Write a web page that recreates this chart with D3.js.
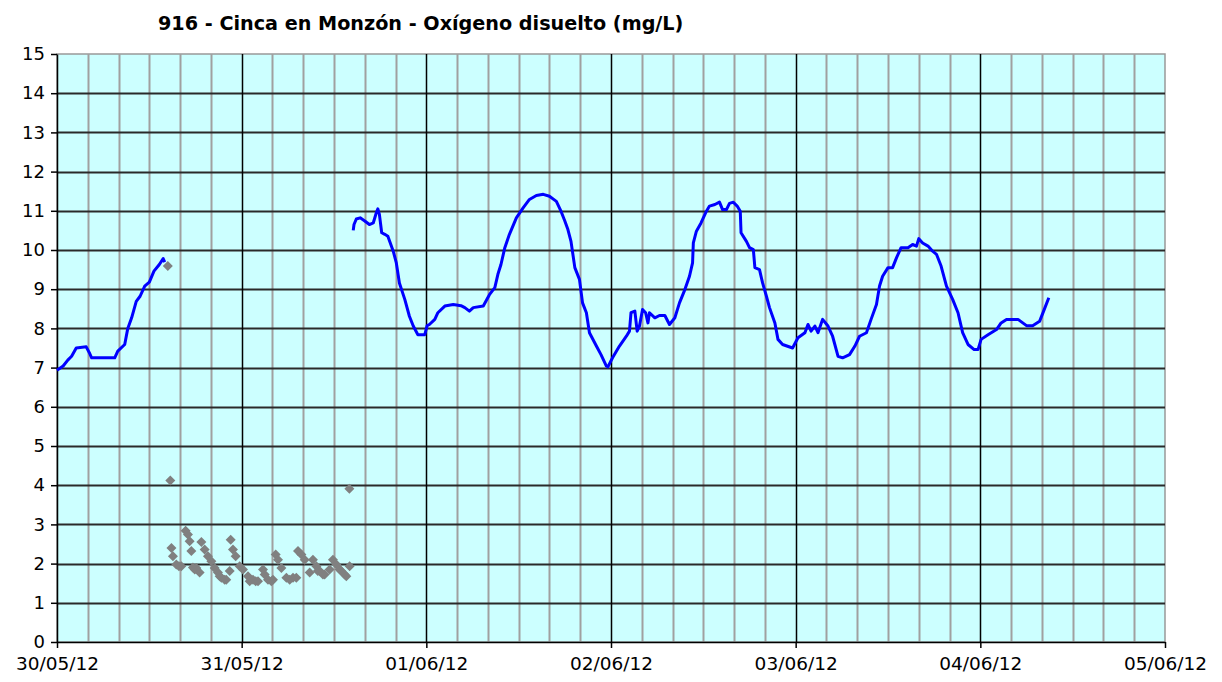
<!DOCTYPE html>
<html>
<head>
<meta charset="utf-8">
<script src="https://cdn.jsdelivr.net/npm/d3@7.9.0/dist/d3.min.js"></script>
<style>
  body { margin: 0; background: #fff; }
  svg { display: block; }
  text { font-family: "DejaVu Sans", Verdana, sans-serif; fill: #000; }
</style>
</head>
<body>
<svg id="chart" width="1222" height="682"></svg>
<script>
// hours since 30/05/12 00:00 and dissolved oxygen (mg/L); null = gap
const blueHours = [0, 0.8, 1.4, 1.9, 2.5, 3.8, 4.2, 4.5, 7.5, 7.9, 8.8, 9.2, 9.7, 10.3, 10.8, 11.4, 12.0, 12.6, 13.3, 13.8, 14.0,
  14.2,
  38.5, 38.6, 38.9, 39.4, 40.0, 40.6, 41.1, 41.5, 41.7, 41.9, 42.2, 42.6, 43.0, 43.7, 44.1, 44.5, 45.2, 45.8, 46.3, 46.9, 47.8,
  48.1, 48.4, 49.1, 49.5, 50.4, 51.5, 52.5, 53.0, 53.6, 54.1, 55.4, 56.2, 56.9, 57.3, 57.7, 58.2, 58.8, 59.7, 60.6, 61.4, 62.3,
  63.2, 64.0, 64.9, 65.5, 66.0, 66.4, 66.8, 67.3, 67.9, 68.3, 68.8, 69.2, 70.1, 70.7, 71.4, 71.6, 72.2, 73.1, 74.0, 74.4, 74.6,
  75.1, 75.4, 75.7, 76.1, 76.5, 76.8, 77.0, 77.7, 78.3, 79.0, 79.6, 80.3, 80.9, 81.6, 82.2, 82.6, 82.7, 83.1, 83.7, 84.4, 84.8,
  85.5, 86.1, 86.5, 87.0, 87.4, 87.9, 88.4, 88.8, 88.9, 89.6, 90.0, 90.5, 90.7, 91.3, 91.7, 92.2, 92.6, 93.3, 93.7, 94.3, 95.6,
  96.3, 97.2, 97.6, 98.0, 98.5, 98.9, 99.5, 100.2, 100.8, 101.5, 102.1, 103.0, 103.7, 104.3, 105.2, 105.8, 106.5, 106.9, 107.3,
  108.0, 108.6, 109.1, 109.7, 110.6, 111.2, 111.7, 112.0, 112.5, 113.2, 113.8, 114.3, 114.9, 115.6, 116.4, 117.1, 117.7, 118.4,
  119.2, 119.7, 120.1, 121.0, 122.1, 122.7, 123.4, 124.9, 126.0, 126.8, 127.7, 128.3, 128.9];
const blueValues = [6.93, 7.04, 7.19, 7.29, 7.5, 7.53, 7.38, 7.25, 7.25, 7.42, 7.59, 8.0, 8.27, 8.69, 8.82, 9.08, 9.18, 9.46, 9.63, 9.78, 9.69,
  null,
  10.5, 10.65, 10.79, 10.82, 10.74, 10.65, 10.69, 10.95, 11.05, 10.91, 10.44, 10.40, 10.35, 9.97, 9.67, 9.16, 8.74, 8.31, 8.06, 7.84, 7.84,
  8.07, 8.10, 8.23, 8.40, 8.57, 8.61, 8.58, 8.53, 8.44, 8.53, 8.57, 8.86, 9.04, 9.38, 9.63, 10.06, 10.40, 10.82, 11.08, 11.29, 11.39,
  11.42, 11.37, 11.24, 10.99, 10.74, 10.52, 10.22, 9.55, 9.25, 8.65, 8.40, 7.89, 7.55, 7.33, 7.04, 7.02, 7.25, 7.55, 7.80, 7.93, 8.40,
  8.44, 7.93, 8.06, 8.48, 8.40, 8.14, 8.40, 8.27, 8.33, 8.33, 8.10, 8.27, 8.65, 8.99, 9.33, 9.67, 10.18, 10.48, 10.69, 10.99, 11.12,
  11.16, 11.22, 11.03, 11.03, 11.19, 11.22, 11.12, 10.99, 10.44, 10.22, 10.06, 10.01, 9.55, 9.50, 9.16, 8.82, 8.53, 8.14, 7.72, 7.59, 7.50,
  7.76, 7.89, 8.10, 7.93, 8.06, 7.89, 8.23, 8.06, 7.80, 7.29, 7.25, 7.33, 7.55, 7.80, 7.89, 8.23, 8.61, 9.08, 9.33,
  9.55, 9.55, 9.80, 10.06, 10.06, 10.14, 10.10, 10.29, 10.18, 10.10, 9.97, 9.89, 9.59, 9.08, 8.74, 8.40, 7.89, 7.59,
  7.46, 7.46, 7.72, 7.84, 7.97, 8.14, 8.23, 8.23, 8.07, 8.07, 8.18, 8.48, 8.78];

const grayHours = [14.4, 14.73, 14.87, 15.07, 15.51, 15.85, 16.16, 16.72, 17.02, 17.24, 17.46, 17.67, 17.9, 18.11, 18.54, 18.76,
  19.19, 19.62, 20.06, 20.49, 20.92, 21.14, 21.36, 21.79, 22.0, 22.44, 22.57, 22.87, 23.22, 23.74, 24.17, 24.82, 25.04, 25.47,
  25.82, 26.12, 26.77, 26.99, 27.42, 27.86, 28.07, 28.42, 28.72, 29.16, 29.81, 30.24, 30.67, 31.1, 31.32, 31.76, 32.19, 32.84,
  33.26, 33.71, 33.9, 34.14, 34.56, 34.78, 35.43, 35.86, 36.31, 36.73, 36.95, 37.38, 37.6, 38.0, 38.03];
const grayValues = [9.59, 4.12, 2.40, 2.19, 1.98, 1.93, 1.93, 2.84, 2.74, 2.57, 2.32, 1.9, 1.85, 1.89, 1.77, 2.55,
  2.36, 2.19, 2.06, 1.89, 1.77, 1.68, 1.64, 1.59, 1.59, 1.81, 2.61, 2.36, 2.19, 1.93, 1.85, 1.68, 1.55, 1.59,
  1.55, 1.55, 1.85, 1.72, 1.59, 1.55, 1.59, 2.23, 2.10, 1.89, 1.64, 1.59, 1.64, 1.64, 2.32, 2.23, 2.10, 1.77,
  2.10, 1.93, 1.81, 1.81, 1.72, 1.72, 1.85, 2.10, 1.98, 1.85, 1.81, 1.72, 1.68, 3.91, 1.93];

const yTicks = [0, 1, 2, 3, 4, 5, 6, 7, 8, 9, 10, 11, 12, 13, 14, 15];
const title = '916 - Cinca en Monzón - Oxígeno disuelto (mg/L)';

const start = new Date(2012, 4, 30);
const end = new Date(2012, 5, 5);
const toDate = h => new Date(+start + h * 36e5);

const svg = d3.select('#chart');
const margin = { top: 54, right: 57, bottom: 40, left: 57 };
const W = 1222, H = 682;

const x = d3.scaleTime().domain([start, end]).range([margin.left, W - margin.right]);
const y = d3.scaleLinear().domain([0, 15]).range([H - margin.bottom, margin.top]);

// plot background
svg.append('rect')
  .attr('x', margin.left).attr('y', margin.top)
  .attr('width', W - margin.left - margin.right)
  .attr('height', H - margin.top - margin.bottom)
  .attr('fill', '#ccffff')
  .attr('stroke', '#999').attr('stroke-width', 1.5);

// minor vertical grid (every 4 hours)
const minor = d3.timeHour.every(4).range(start, end).filter(d => d.getHours() !== 0);
svg.append('g').selectAll('line').data(minor).join('line')
  .attr('x1', d => Math.round(x(d)) + 0.5).attr('x2', d => Math.round(x(d)) + 0.5)
  .attr('y1', y(15)).attr('y2', y(0))
  .attr('stroke', '#a0a0a0').attr('stroke-width', 2);

// horizontal grid
svg.append('g').selectAll('line').data(yTicks.slice(1, -1)).join('line')
  .attr('x1', x(start)).attr('x2', x(end))
  .attr('y1', d => Math.round(y(d)) + 0.5).attr('y2', d => Math.round(y(d)) + 0.5)
  .attr('stroke', '#2a2a2a').attr('stroke-width', 2);

// day lines
const days = d3.timeDay.range(start, d3.timeDay.offset(end, 1));
svg.append('g').selectAll('line').data(days.slice(1, -1)).join('line')
  .attr('x1', d => Math.round(x(d)) + 0.5).attr('x2', d => Math.round(x(d)) + 0.5)
  .attr('y1', y(15)).attr('y2', y(0))
  .attr('stroke', '#000').attr('stroke-width', 1.5);

// axes
const yAxis = svg.append('g')
  .attr('transform', `translate(${margin.left},0)`)
  .call(d3.axisLeft(y).tickValues(yTicks).tickSize(6).tickPadding(6).tickSizeOuter(0));
const xAxis = svg.append('g')
  .attr('transform', `translate(0,${H - margin.bottom})`)
  .call(d3.axisBottom(x).tickValues(days).tickFormat(d3.timeFormat('%d/%m/%y'))
    .tickSize(6).tickPadding(9).tickSizeOuter(0));
[yAxis, xAxis].forEach(a => {
  a.select('.domain').attr('stroke', '#000').attr('stroke-width', 1.5);
  a.selectAll('.tick line').attr('stroke', '#000').attr('stroke-width', 1.5);
  a.selectAll('text').attr('font-family', '"DejaVu Sans", Verdana, sans-serif').attr('fill', '#000');
});
yAxis.selectAll('text').attr('font-size', 18);
xAxis.selectAll('text').attr('font-size', 18.5);

// blue series
const blue = blueHours.map((h, i) => ({ t: toDate(h), v: blueValues[i] }));
const line = d3.line().defined(d => d.v != null).x(d => x(d.t)).y(d => y(d.v));
svg.append('path').datum(blue)
  .attr('d', line)
  .attr('fill', 'none').attr('stroke', '#0000ff')
  .attr('stroke-width', 3).attr('stroke-linejoin', 'round');

// gray diamonds
const gray = grayHours.map((h, i) => ({ t: toDate(h), v: grayValues[i] }));
svg.append('g').selectAll('path').data(gray).join('path')
  .attr('transform', d => `translate(${x(d.t)},${y(d.v)})`)
  .attr('d', 'M0,-5L5,0L0,5L-5,0Z')
  .attr('fill', '#808080');

// title
const t = svg.append('text')
  .attr('x', 158).attr('y', 30)
  .attr('font-size', 19).attr('font-weight', 'bold')
  .text(title);
const w = t.node().getComputedTextLength();
t.attr('font-size', 19 * 526 / w);
</script>
</body>
</html>
